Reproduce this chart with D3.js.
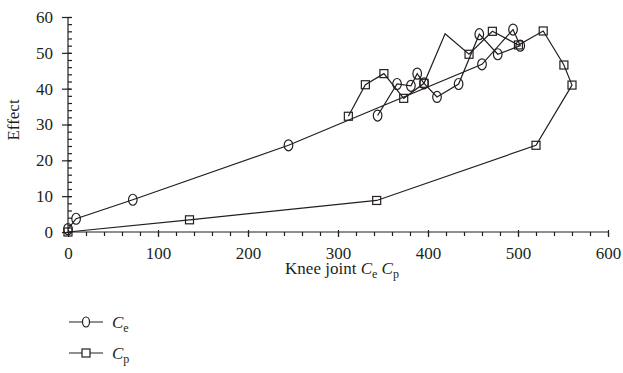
<!DOCTYPE html>
<html>
<head>
<meta charset="utf-8">
<script src="https://cdn.jsdelivr.net/npm/d3@7"></script>
<style>
body { margin: 0; background: #fff; }
svg { display: block; }
text { font-family: "Liberation Serif", "DejaVu Serif", serif; fill: #231f20; }
</style>
</head>
<body>
<svg width="623" height="373"></svg>
<script>
// data
var ceSeries = [[0, 0.8], [9, 3.7], [72, 9], [245, 24.2], [460, 46.8], [494.5, 56.5], [502.5, 52],
  [477.5, 49.6], [457, 55.2], [434, 41.3], [410, 37.7], [395.6, 41.5], [388, 44.2], [381, 40.8],
  [365.6, 41.3], [344, 32.5]];
var cpSeries = [[311.5, 32.3], [330.4, 41.1], [351, 44.2], [373, 37.3], [395.6, 41.5], [419, 55.3],
  [445.6, 49.6], [471.5, 56], [500.5, 52.2], [528, 56.1], [551, 46.6], [560, 41], [520, 24.2],
  [343, 8.8], [135, 3.4], [0, 0]];
var cpNoMarker = [5];
var xTicks = [0, 100, 200, 300, 400, 500, 600];
var yTicks = [0, 10, 20, 30, 40, 50, 60];

var svg = d3.select('svg');
var x = d3.scaleLinear().domain([0, 600]).range([68, 608]);
var y = d3.scaleLinear().domain([0, 60]).range([232, 17]);
var ink = '#231f20';

// x axis
var gx = svg.append('g').attr('transform', 'translate(0,' + y(0) + ')');
gx.call(d3.axisBottom(x).tickValues(d3.range(0, 601, 20)).tickSize(4).tickFormat(''));
gx.select('.domain').remove();
var gx2 = svg.append('g').attr('transform', 'translate(0,' + y(0) + ')');
gx2.call(d3.axisBottom(x).tickValues(xTicks).tickSize(5).tickPadding(10));
gx2.selectAll('.tick line').attr('y1', -2);
gx2.selectAll('.tick text').attr('font-size', 17).attr('font-family', 'Liberation Serif');
gx2.select('.domain').attr('d', 'M' + x(0) + ',0H' + x(600));

// y axis
var gy = svg.append('g').attr('transform', 'translate(' + x(0) + ',0)');
gy.call(d3.axisRight(y).tickValues(d3.range(0, 61, 2)).tickSize(4).tickFormat(''));
gy.select('.domain').remove();
var gy2 = svg.append('g').attr('transform', 'translate(' + x(0) + ',0)');
gy2.call(d3.axisLeft(y).tickValues(yTicks).tickSize(6).tickPadding(9));
gy2.selectAll('.tick line').attr('x1', 3);
gy2.selectAll('.tick text').attr('font-size', 17).attr('font-family', 'Liberation Serif');
gy2.select('.domain').attr('d', 'M0,' + y(0) + 'V' + y(60));
svg.selectAll('.tick line, .domain').attr('stroke', ink).attr('stroke-width', 1.2);
svg.selectAll('.tick text').attr('fill', ink);

// axis titles
svg.append('text').attr('transform', 'translate(19,120) rotate(-90)')
  .attr('text-anchor', 'middle').attr('font-size', 17).text('Effect');

function subLabel(t, main, sub) {
  t.append('tspan').attr('font-style', 'italic').text(main);
  t.append('tspan').attr('font-size', 12).attr('dy', 4).text(sub);
}
var xt = svg.append('text').attr('x', 342).attr('y', 274).attr('text-anchor', 'middle').attr('font-size', 17);
xt.append('tspan').text('Knee joint ');
xt.append('tspan').attr('font-style', 'italic').text('C');
xt.append('tspan').attr('font-size', 12).attr('dy', 4).text('e');
xt.append('tspan').attr('dy', -4).text(' ');
xt.append('tspan').attr('font-style', 'italic').text('C');
xt.append('tspan').attr('font-size', 12).attr('dy', 4).text('p');

// lines
var line = d3.line().x(function(d) { return x(d[0]); }).y(function(d) { return y(d[1]); });
[ceSeries, cpSeries].forEach(function(s) {
  svg.append('path').attr('d', line(s)).attr('fill', 'none').attr('stroke', ink).attr('stroke-width', 1.2);
});

// markers
svg.selectAll('.ce').data(ceSeries).enter().append('ellipse')
  .attr('cx', function(d) { return x(d[0]); }).attr('cy', function(d) { return y(d[1]); })
  .attr('rx', 4.3).attr('ry', 5.5).attr('fill', 'none').attr('stroke', ink).attr('stroke-width', 1.2);
svg.selectAll('.cp').data(cpSeries.filter(function(d, i) { return cpNoMarker.indexOf(i) < 0; })).enter().append('rect')
  .attr('x', function(d) { return x(d[0]) - 4; }).attr('y', function(d) { return y(d[1]) - 4; })
  .attr('width', 8).attr('height', 8).attr('fill', 'none').attr('stroke', ink).attr('stroke-width', 1.2);

// legend
var lg = svg.append('g');
var ly = [322, 353];
ly.forEach(function(yy, i) {
  lg.append('line').attr('x1', 69).attr('x2', 103).attr('y1', yy).attr('y2', yy)
    .attr('stroke', ink).attr('stroke-width', 1.2);
  if (i === 0) {
    lg.append('ellipse').attr('cx', 86).attr('cy', yy).attr('rx', 3.5).attr('ry', 5)
      .attr('fill', '#fff').attr('stroke', ink).attr('stroke-width', 1.2);
  } else {
    lg.append('rect').attr('x', 82).attr('y', yy - 4).attr('width', 8).attr('height', 8)
      .attr('fill', '#fff').attr('stroke', ink).attr('stroke-width', 1.2);
  }
  var t = lg.append('text').attr('x', 112).attr('y', yy + 6).attr('font-size', 17);
  subLabel(t, 'C', i === 0 ? 'e' : 'p');
});
</script>
</body>
</html>
